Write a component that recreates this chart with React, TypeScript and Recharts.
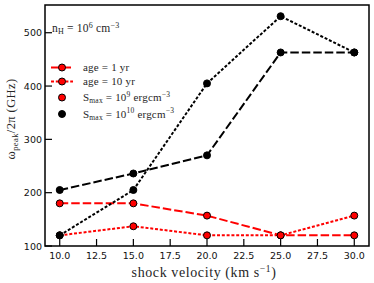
import React from "react";
import { LineChart, Line, XAxis, YAxis, ReferenceArea } from "recharts";

// shock velocity (km/s)
const velocity = [10, 15, 20, 25, 30];
// peak frequency (GHz)
const age1S9 = [180, 180, 157, 120, 120];
const age10S9 = [120, 137, 120, 120, 157];
const age1S10 = [205, 236, 270, 463, 463];
const age10S10 = [120, 205, 405, 531, 463];

const xTicks = [10, 12.5, 15, 17.5, 20, 22.5, 25, 27.5, 30];
const yTicks = [100, 200, 300, 400, 500];

const RED = "#ff0000";
const INK = "#000";
const SERIF = "'Liberation Serif', 'DejaVu Serif', serif";
const SANS = "'DejaVu Sans', sans-serif";
const DASHED = "8.5 3";
const DOTTED = "3 1.8";

const data = velocity.map((v, i) => ({
  v,
  a1s9: age1S9[i],
  a10s9: age10S9[i],
  a1s10: age1S10[i],
  a10s10: age10S10[i],
}));

const XTick = ({ x, y, payload }: any) => (
  <g>
    <line x1={x} x2={x} y1={y} y2={y - 7} stroke={INK} strokeWidth={1.2} />
    <text x={x} y={y + 13} textAnchor="middle" fontSize={9.5} fontFamily={SANS} fill="#111">
      {Number(payload.value).toFixed(1)}
    </text>
  </g>
);

const YTick = ({ x, y, payload }: any) => (
  <g>
    <line x1={x} x2={x + 7} y1={y} y2={y} stroke={INK} strokeWidth={1.2} />
    <text x={x - 3} y={y} textAnchor="end" dominantBaseline="central" fontSize={9.5} fontFamily={SANS} fill="#111">
      {payload.value}
    </text>
  </g>
);

const redDot = { r: 3.5, fill: RED, stroke: INK, strokeWidth: 1, strokeDasharray: "none" };
const blackDot = { r: 3.5, fill: INK, stroke: INK, strokeWidth: 1, strokeDasharray: "none" };

function Overlay() {
  const rows = [67.5, 81.5, 97.5, 114];
  const tx = 83;
  return (
    <svg
      width={374}
      height={283}
      style={{ position: "absolute", left: 0, top: 0, pointerEvents: "none" }}
      fontFamily={SERIF}
      fill="#262626"
    >
      {/* y label */}
      <text transform="translate(15,119) rotate(-90)" textAnchor="middle" fontSize={12.5} letterSpacing={0.4}>
        ω<tspan fontSize={8.5} dy={3}>peak</tspan>
        <tspan dy={-3}>/2π (GHz)</tspan>
      </text>
      {/* x label */}
      <text x={204} y={277} textAnchor="middle" fontSize={14} letterSpacing={0.6}>
        shock velocity (km s<tspan fontSize={9.5} dy={-5}>−1</tspan>
        <tspan dy={5}>)</tspan>
      </text>

      {/* density note */}
      <text x={52} y={32} fontSize={11.5} letterSpacing={0.2}>
        n<tspan fontSize={8} dy={2}>H</tspan>
        <tspan dy={-2}> = 10</tspan>
        <tspan fontSize={8} dy={-4.5}>6</tspan>
        <tspan dy={4.5}> cm</tspan>
        <tspan fontSize={8} dy={-4.5}>−3</tspan>
      </text>

      {/* legend */}
      <line x1={51} x2={73} y1={rows[0]} y2={rows[0]} stroke={RED} strokeWidth={2} strokeDasharray={DASHED} />
      <circle cx={62} cy={rows[0]} r={3.5} fill={RED} stroke={INK} strokeWidth={1} />
      <line x1={51} x2={73} y1={rows[1]} y2={rows[1]} stroke={RED} strokeWidth={2} strokeDasharray={DOTTED} />
      <circle cx={62} cy={rows[1]} r={3.5} fill={RED} stroke={INK} strokeWidth={1} />
      <circle cx={62} cy={rows[2]} r={3.5} fill={RED} stroke={INK} strokeWidth={1} />
      <circle cx={62} cy={rows[3]} r={3.5} fill={INK} stroke={INK} strokeWidth={1} />

      <g fontSize={11} letterSpacing={0.2}>
        <text x={tx} y={rows[0] + 3.5}>age = 1 yr</text>
        <text x={tx} y={rows[1] + 3.5}>age = 10 yr</text>
        <text x={tx} y={rows[2] + 3.5}>
          S<tspan fontSize={7.5} dy={2}>max</tspan>
          <tspan dy={-2}> = 10</tspan>
          <tspan fontSize={7.5} dy={-4.5}>9</tspan>
          <tspan dy={4.5}> ergcm</tspan>
          <tspan fontSize={7.5} dy={-4.5}>−3</tspan>
        </text>
        <text x={tx} y={rows[3] + 3.5}>
          S<tspan fontSize={7.5} dy={2}>max</tspan>
          <tspan dy={-2}> = 10</tspan>
          <tspan fontSize={7.5} dy={-4.5}>10</tspan>
          <tspan dy={4.5}> ergcm</tspan>
          <tspan fontSize={7.5} dy={-4.5}>−3</tspan>
        </text>
      </g>
    </svg>
  );
}

export default function App() {
  return (
    <div style={{ position: "absolute", left: 0, top: 0, width: 374, height: 283, background: "#fff" }}>
      <LineChart width={374} height={283} data={data} margin={{ top: 5, right: 5, bottom: 0, left: 0 }}>
        <XAxis
          type="number"
          dataKey="v"
          domain={[9, 31]}
          ticks={xTicks}
          height={37}
          axisLine={false}
          tickLine={false}
          tickSize={0}
          tickMargin={0}
          tick={<XTick />}
          interval={0}
        />
        <YAxis
          type="number"
          domain={[100, 552]}
          ticks={yTicks}
          width={45}
          axisLine={false}
          tickLine={false}
          tickSize={0}
          tickMargin={0}
          tick={<YTick />}
          interval={0}
          allowDataOverflow
        />
        <ReferenceArea x1={9} x2={31} y1={100} y2={552} fill="none" stroke={INK} strokeWidth={1.5} ifOverflow="visible" />
        <Line dataKey="a1s9" stroke={RED} strokeWidth={2} strokeDasharray={DASHED} dot={redDot} isAnimationActive={false} />
        <Line dataKey="a10s9" stroke={RED} strokeWidth={2} strokeDasharray={DOTTED} dot={redDot} isAnimationActive={false} />
        <Line dataKey="a1s10" stroke={INK} strokeWidth={2} strokeDasharray={DASHED} dot={blackDot} isAnimationActive={false} />
        <Line dataKey="a10s10" stroke={INK} strokeWidth={2} strokeDasharray={DOTTED} dot={blackDot} isAnimationActive={false} />
      </LineChart>
      <Overlay />
    </div>
  );
}
